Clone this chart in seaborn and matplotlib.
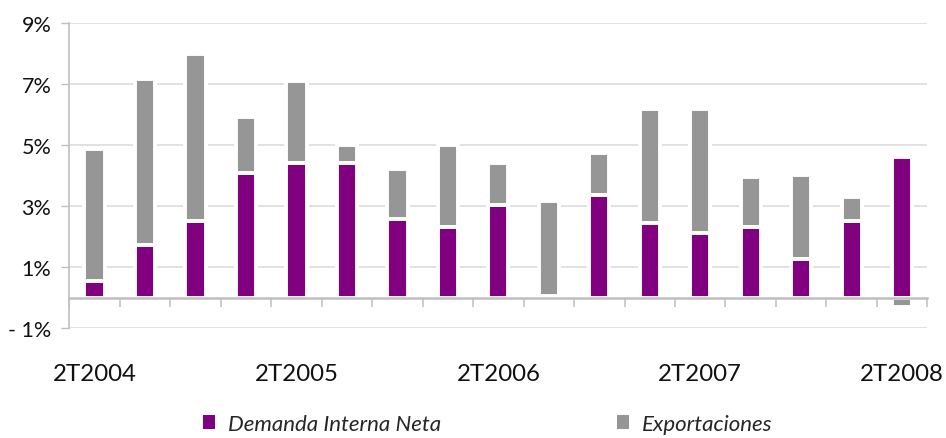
import numpy as np
import pandas as pd
import matplotlib
matplotlib.use("Agg")
import matplotlib.pyplot as plt
from matplotlib.patches import Patch
from matplotlib.ticker import FixedLocator, FixedFormatter
import seaborn as sns

# quarterly contributions (%)
quarters = ['2T2004', '3T2004', '4T2004', '1T2005', '2T2005', '3T2005', '4T2005',
            '1T2006', '2T2006', '3T2006', '4T2006', '1T2007', '2T2007', '3T2007',
            '4T2007', '1T2008', '2T2008']
demanda = [0.56, 1.74, 2.52, 4.10, 4.42, 4.42, 2.59, 2.33, 3.05, 0.05, 3.37,
           2.46, 2.13, 2.33, 1.27, 2.52, 4.62]
exportaciones = [4.32, 5.43, 5.45, 1.83, 2.68, 0.59, 1.64, 2.68, 1.37, 3.13, 1.38,
                 3.73, 4.06, 1.64, 2.76, 0.79, -0.30]
xlabels = ['2T2004', '2T2005', '2T2006', '2T2007', '2T2008']
ytick_vals = [-1, 1, 3, 5, 7, 9]
ytick_labels = ['- 1%', '1%', '3%', '5%', '7%', '9%']
series_names = ['Demanda Interna Neta', 'Exportaciones']

purple = '#800080'
grey = '#969696'
grid_c = '#d9d9d9'
axis_c = '#bfbfbf'

sns.set_theme(style='white')
plt.rcParams['font.family'] = ['Lato', 'DejaVu Sans']

df = pd.DataFrame({'trimestre': quarters, 'demanda': demanda, 'export': exportaciones})
df['pos'] = np.arange(len(df))
# Excel-style stacking: positive on top of positive, negative from zero down
df['bottom'] = np.where((df['export'] >= 0) & (df['demanda'] >= 0), df['demanda'], 0)

fig = plt.figure(figsize=(9.46, 4.39), dpi=100)
ax = fig.add_axes([0.0733, 0.2499, 0.9070, 0.6954])

sns.barplot(data=df, x='trimestre', y='demanda', color=purple, width=0.4,
            edgecolor='white', linewidth=2.8, saturation=1, ax=ax)
ax.bar(df['pos'], df['export'], bottom=df['bottom'], width=0.4, color=grey,
       edgecolor='white', linewidth=2.8)

ax.set_xlim(-0.5, len(df) - 0.5)
ax.set_ylim(-1, 9)
ax.set_xlabel('')
ax.set_ylabel('')

ax.yaxis.set_major_locator(FixedLocator(ytick_vals))
ax.yaxis.set_major_formatter(FixedFormatter(ytick_labels))
ax.set_axisbelow(True)
ax.yaxis.grid(True, color=grid_c, linewidth=1.1)
ax.xaxis.grid(False)

ax.set_xticks([quarters.index(q) for q in xlabels])
ax.set_xticklabels(xlabels)
ax.set_xticks(np.arange(-0.5, len(df), 1), minor=True)

for side in ['top', 'right']:
    ax.spines[side].set_visible(False)
ax.spines['bottom'].set_position(('data', 0))
ax.spines['bottom'].set_color(axis_c)
ax.spines['bottom'].set_linewidth(1.8)
ax.spines['left'].set_color(axis_c)
ax.spines['left'].set_linewidth(1.2)

ax.tick_params(axis='y', which='major', left=True, length=6, width=1, color=axis_c,
               pad=7, labelsize=15.5, labelcolor='#111111')
ax.tick_params(axis='x', which='major', bottom=True, length=0, pad=47,
               labelsize=17.3, labelcolor='#111111')
ax.tick_params(axis='x', which='minor', bottom=True, length=6.5, width=1.1,
               color=axis_c, direction='out')

# two legend entries placed where the reference has them
for name, col, x0 in zip(series_names, [purple, grey], [203 / 946, 617 / 946]):
    fig.legend([Patch(facecolor=col, edgecolor='none')], [name], frameon=False,
               loc='center left', bbox_to_anchor=(x0, 0.032), borderpad=0,
               borderaxespad=0, handlelength=0.54, handleheight=0.54,
               handletextpad=0.6, prop={'style': 'italic', 'size': 16})

fig.savefig('out.png', dpi=100)
